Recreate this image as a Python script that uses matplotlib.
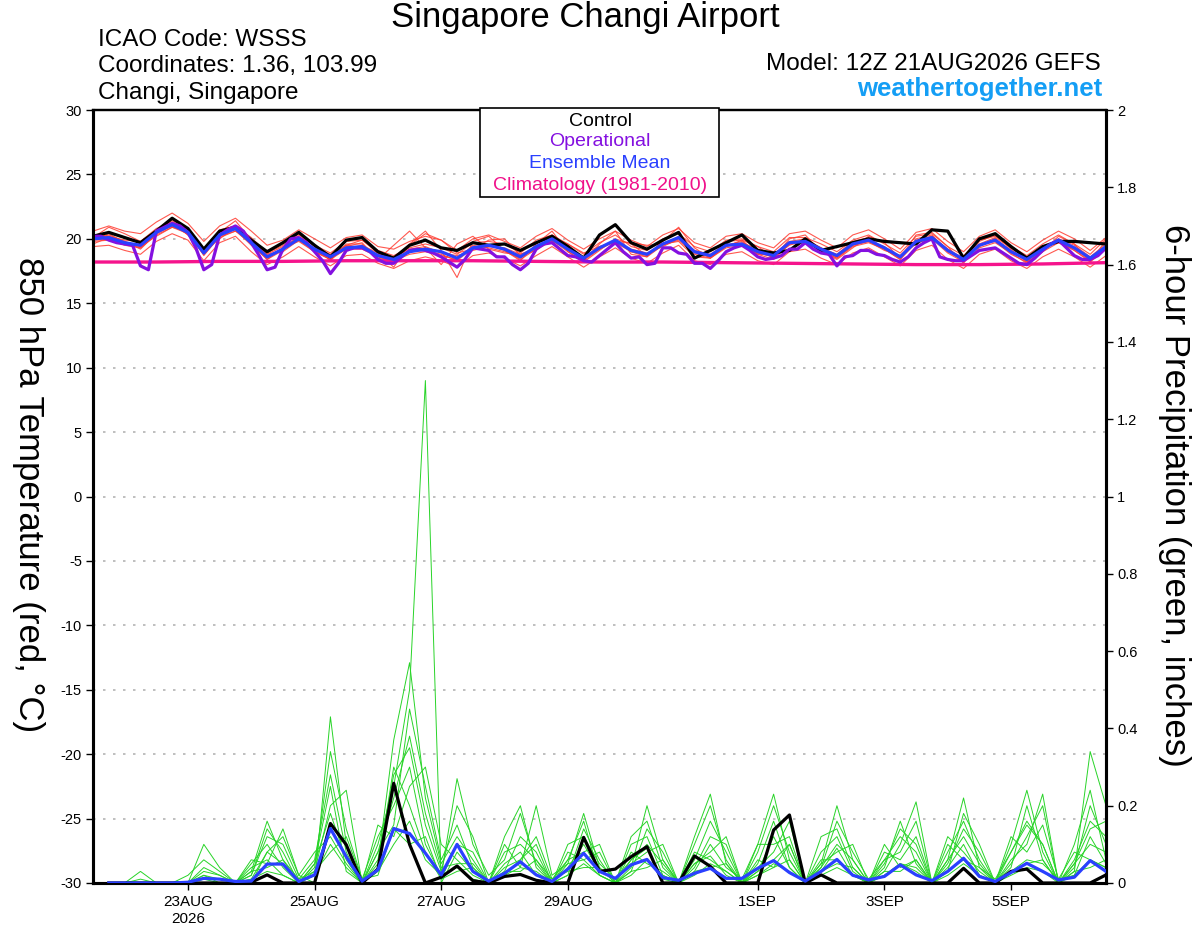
import numpy as np
import pandas as pd
import matplotlib
matplotlib.use('Agg')
import matplotlib.pyplot as plt
from matplotlib.patches import Rectangle
from matplotlib.ticker import FuncFormatter

# Helvetica-like font, plain hyphen for negative ticks
plt.rcParams['font.family'] = ['Liberation Sans', 'DejaVu Sans']
plt.rcParams['axes.unicode_minus'] = False

# ---- time axes (6-hourly ensemble, 3-hourly operational, daily climatology)
times = pd.date_range('2026-08-21 12:00', periods=65, freq='6h')
times_op = pd.date_range('2026-08-21 12:00', periods=129, freq='3h')
times_clim = pd.date_range('2026-08-21 12:00', periods=17, freq='24h')
times_pcp = times[1:]

# ---- 850 hPa temperature (C)
control_t = [20.2, 20.5, 20.1, 19.7, 20.6, 21.6, 20.8, 19.2,
             20.6, 20.9, 19.9, 19.0, 19.7, 20.5, 19.5, 18.6,
             19.9, 20.1, 19.0, 18.5, 19.5, 19.9, 19.3, 19.1,
             19.7, 19.5, 19.6, 19.1, 19.7, 20.2, 19.4, 18.5,
             20.3, 21.1, 19.7, 19.2, 19.9, 20.5, 18.5, 19.1,
             19.7, 20.3, 19.1, 18.9, 19.1, 20.0, 19.1, 19.4,
             19.7, 20.0, 19.8, 19.7, 19.6, 20.7, 20.6, 18.5,
             20.0, 20.4, 19.4, 18.5, 19.4, 19.8, 19.8, 19.7,
             19.6]

mean_t = [20.0, 20.1, 19.7, 19.5, 20.5, 21.1, 20.5, 18.9,
          20.3, 20.8, 19.7, 18.6, 19.2, 20.0, 19.2, 18.6,
          19.3, 19.4, 18.7, 18.4, 19.0, 19.2, 19.0, 18.5,
          19.3, 19.5, 19.2, 18.6, 19.4, 20.0, 19.2, 18.5,
          19.3, 19.9, 19.1, 18.8, 19.6, 20.1, 19.0, 18.7,
          19.5, 19.6, 19.0, 18.7, 19.7, 19.8, 19.2, 18.7,
          19.6, 19.9, 19.3, 18.6, 19.8, 20.1, 19.1, 18.4,
          19.5, 19.9, 19.0, 18.4, 19.2, 19.9, 19.3, 18.5,
          19.4]

oper_t = [20.2, 20.2, 19.9, 19.7, 19.6, 19.5, 17.9, 17.6,
          20.6, 20.9, 21.2, 21.0, 20.5, 19.3, 17.6, 18.0,
          20.3, 20.7, 21.0, 20.6, 19.7, 18.7, 17.6, 17.8,
          19.2, 20.0, 20.1, 19.7, 19.0, 18.3, 17.3, 18.1,
          19.1, 19.3, 19.3, 19.0, 18.4, 18.1, 18.1, 18.6,
          19.1, 19.2, 19.1, 18.9, 18.6, 18.2, 17.8, 18.4,
          19.3, 19.2, 19.1, 18.6, 18.6, 18.0, 17.6, 18.1,
          19.2, 19.6, 19.7, 19.2, 18.7, 18.6, 18.3, 18.2,
          18.7, 19.2, 19.7, 19.0, 18.5, 18.6, 18.0, 18.1,
          19.3, 19.3, 18.9, 18.8, 18.1, 18.1, 17.7, 18.3,
          19.0, 19.3, 19.5, 19.1, 18.6, 18.4, 18.5, 18.7,
          19.2, 19.2, 19.7, 19.2, 18.9, 18.8, 17.9, 18.6,
          18.7, 19.1, 19.1, 18.8, 18.7, 18.4, 18.2, 18.6,
          19.3, 19.7, 20.0, 18.6, 18.4, 18.3, 18.3, 18.7,
          19.1, 19.2, 19.3, 18.9, 18.5, 18.1, 18.0, 18.5,
          19.1, 19.6, 19.9, 19.3, 18.7, 18.4, 18.4, 18.7,
          19.3]

clim_t = [18.2, 18.2, 18.25, 18.25, 18.3, 18.3, 18.3, 18.25, 18.2,
          18.2, 18.15, 18.1, 18.05, 18.0, 18.0, 18.05, 18.15]

members_t = [
    [20.6, 21.0, 20.6, 20.4, 21.3, 22.0, 21.2, 19.8, 21.0, 21.6, 20.6, 19.5, 19.9, 20.7, 20.0, 19.3,
     20.1, 20.3, 19.4, 19.2, 19.8, 20.2, 19.9, 19.1, 20.0, 20.3, 19.8, 19.3, 20.2, 20.8, 19.9, 19.2,
     20.0, 20.6, 19.9, 19.4, 20.3, 20.8, 19.7, 19.3, 20.2, 20.4, 19.7, 19.3, 20.4, 20.6, 19.9, 19.3,
     20.3, 20.7, 20.0, 19.2, 20.5, 20.8, 19.8, 19.0, 20.2, 20.7, 19.7, 19.0, 19.9, 20.6, 20.0, 19.1, 20.1],
    [19.4, 19.5, 19.1, 18.8, 19.8, 20.4, 19.9, 18.3, 19.7, 20.2, 19.0, 18.0, 18.6, 19.4, 18.6, 17.9,
     18.7, 18.8, 18.1, 17.7, 18.3, 18.6, 18.3, 17.8, 18.7, 18.9, 18.5, 17.9, 18.7, 19.4, 18.6, 17.8,
     18.6, 19.3, 18.5, 18.1, 18.9, 19.5, 18.3, 18.0, 18.8, 19.0, 18.3, 18.0, 19.0, 19.2, 18.5, 18.0,
     18.9, 19.3, 18.6, 17.9, 19.1, 19.5, 18.4, 17.7, 18.8, 19.2, 18.3, 17.7, 18.6, 19.2, 18.6, 17.8, 18.7],
    [20.1, 20.9, 20.4, 19.8, 20.6, 21.3, 20.3, 19.0, 20.5, 21.4, 19.9, 18.8, 19.4, 20.1, 19.0, 18.4,
     19.5, 19.9, 18.9, 17.8, 19.6, 20.6, 19.1, 17.0, 19.8, 20.2, 19.1, 18.3, 19.6, 20.6, 19.0, 18.2,
     19.1, 20.0, 19.6, 18.7, 19.8, 20.9, 19.3, 18.5, 19.4, 19.9, 19.4, 18.5, 20.0, 20.3, 19.0, 18.4,
     19.3, 20.2, 19.7, 18.5, 20.3, 20.5, 19.4, 18.1, 19.8, 20.3, 19.2, 18.2, 19.0, 20.2, 19.6, 18.2, 19.9],
    [19.9, 20.0, 19.5, 19.3, 20.3, 20.9, 20.6, 18.7, 20.2, 20.6, 19.9, 18.8, 19.0, 19.9, 19.3, 18.8,
     19.5, 19.3, 18.8, 18.6, 19.2, 19.4, 18.9, 18.7, 19.1, 19.4, 19.3, 18.8, 19.2, 19.8, 19.3, 18.6,
     19.3, 19.8, 19.2, 18.9, 19.4, 20.0, 19.1, 18.8, 19.6, 19.5, 18.9, 18.6, 19.5, 19.9, 19.1, 18.5,
     19.5, 19.8, 19.1, 18.7, 19.6, 20.2, 19.2, 18.5, 19.4, 20.0, 19.1, 18.3, 19.3, 19.7, 19.2, 18.4, 19.3],
    [20.0, 20.3, 19.8, 19.2, 20.4, 21.5, 20.7, 19.1, 20.0, 20.9, 19.6, 18.4, 19.1, 20.3, 19.4, 18.3,
     19.6, 19.6, 18.5, 18.3, 19.5, 20.4, 19.9, 18.9, 19.2, 19.9, 20.0, 18.7, 19.1, 20.3, 19.5, 18.3,
     19.6, 20.6, 18.8, 18.6, 19.9, 20.5, 19.0, 18.6, 19.8, 19.9, 18.8, 18.8, 19.8, 20.0, 19.3, 18.8,
     19.8, 20.1, 19.2, 18.4, 20.0, 20.3, 19.0, 18.3, 19.6, 20.1, 19.3, 18.5, 19.1, 20.0, 19.5, 18.6, 19.6],
    [19.6, 20.1, 19.6, 19.6, 20.7, 21.2, 20.3, 18.8, 20.4, 20.7, 19.5, 18.5, 19.3, 19.8, 19.0, 18.4,
     19.2, 19.5, 18.9, 18.3, 18.8, 19.0, 18.7, 18.4, 19.5, 19.3, 19.0, 18.5, 19.5, 19.9, 19.1, 18.4,
     19.4, 19.7, 19.0, 18.6, 19.5, 20.2, 18.9, 18.6, 19.4, 19.7, 19.2, 18.5, 19.6, 19.7, 19.1, 18.6,
     19.5, 19.8, 19.4, 18.5, 19.7, 20.0, 19.1, 18.3, 19.5, 19.8, 18.8, 18.2, 19.3, 19.9, 19.1, 18.3, 19.5],
    [20.2, 20.2, 19.9, 19.8, 20.8, 21.4, 20.6, 19.2, 20.7, 21.0, 20.1, 18.9, 19.5, 20.4, 19.5, 18.9,
     19.8, 19.9, 19.1, 18.7, 19.3, 19.6, 19.3, 18.8, 19.7, 19.8, 19.6, 18.9, 19.9, 20.3, 19.6, 18.8,
     19.7, 20.3, 19.4, 19.1, 20.0, 20.4, 19.4, 19.0, 19.9, 20.0, 19.4, 19.0, 20.1, 20.1, 19.6, 19.0,
     19.9, 20.3, 19.6, 18.9, 20.2, 20.4, 19.4, 18.7, 19.9, 20.2, 19.4, 18.7, 19.6, 20.3, 19.6, 18.8, 20.0],
    [19.8, 19.9, 19.8, 19.4, 20.2, 20.9, 20.4, 18.8, 20.1, 20.6, 19.6, 18.4, 19.3, 19.9, 19.0, 18.5,
     19.2, 19.2, 18.6, 18.2, 19.0, 19.1, 18.8, 18.3, 19.3, 19.5, 19.1, 18.4, 19.2, 19.9, 19.0, 18.3,
     19.2, 19.8, 19.0, 18.7, 19.5, 19.9, 18.8, 18.5, 19.3, 19.5, 18.8, 18.4, 19.6, 19.8, 19.0, 18.5,
     19.4, 19.7, 19.2, 18.4, 19.7, 20.0, 18.9, 18.2, 19.3, 19.7, 18.9, 18.1, 19.0, 19.7, 19.1, 18.2, 19.2],
    [20.0, 20.2, 19.6, 19.4, 20.5, 21.0, 20.5, 19.0, 20.3, 20.8, 19.8, 18.7, 19.2, 20.0, 19.2, 18.7,
     19.4, 19.7, 18.4, 19.5, 20.6, 19.3, 18.0, 19.6, 20.2, 19.2, 18.9, 18.8, 19.3, 20.1, 19.6, 18.9,
     19.4, 19.8, 19.7, 19.5, 19.6, 19.8, 18.6, 18.5, 19.5, 19.8, 18.9, 18.6, 19.7, 19.9, 19.3, 18.6,
     19.6, 19.9, 19.2, 18.7, 19.9, 20.2, 19.2, 18.4, 19.5, 20.0, 19.0, 18.3, 19.3, 19.9, 19.3, 18.5, 19.4],
    [19.9, 20.4, 19.7, 19.3, 20.4, 21.0, 20.4, 18.9, 20.3, 20.8, 19.7, 18.6, 19.2, 20.0, 19.1, 18.6,
     19.3, 19.4, 18.7, 18.4, 19.0, 19.3, 19.0, 18.5, 19.3, 19.5, 19.2, 18.6, 19.4, 20.0, 19.2, 18.5,
     19.3, 19.9, 19.1, 18.8, 19.6, 20.1, 19.0, 18.7, 19.5, 19.6, 19.0, 18.7, 19.7, 19.8, 19.2, 18.7,
     19.6, 19.9, 19.3, 18.6, 19.8, 20.1, 19.1, 18.4, 19.5, 19.9, 19.0, 18.4, 19.2, 19.9, 19.3, 18.5, 19.4],
]

# ---- 6-hour precipitation (inches), valid from the first 6 h step
control_p = [0, 0, 0, 0, 0, 0, 0, 0,
             0, 0.002, 0.021, 0, 0, 0, 0.154, 0.099,
             0, 0.036, 0.258, 0.1, 0, 0.015, 0.044, 0.006,
             0, 0.017, 0.022, 0.007, 0, 0, 0.118, 0.03,
             0.036, 0.068, 0.094, 0, 0, 0.07, 0.043, 0,
             0, 0, 0.137, 0.176, 0, 0.021, 0, 0,
             0, 0, 0, 0, 0, 0, 0.038, 0,
             0, 0.03, 0.036, 0, 0, 0, 0, 0.021]

mean_p = [0, 0, 0, 0, 0, 0.002, 0.012, 0.01,
          0.004, 0.005, 0.049, 0.049, 0.004, 0.021, 0.141, 0.068,
          0.005, 0.034, 0.141, 0.128, 0.077, 0.021, 0.1, 0.03,
          0.005, 0.025, 0.055, 0.021, 0.004, 0.036, 0.077, 0.03,
          0.012, 0.047, 0.061, 0.014, 0.007, 0.025, 0.038, 0.012,
          0.012, 0.038, 0.058, 0.027, 0.005, 0.03, 0.061, 0.02,
          0.008, 0.017, 0.047, 0.021, 0.006, 0.03, 0.064, 0.017,
          0.004, 0.027, 0.051, 0.03, 0.008, 0.015, 0.058, 0.03]

members_p = [
    [0, 0, 0, 0, 0, 0, 0.02, 0.01, 0, 0.04, 0.06, 0.02, 0, 0.05, 0.18, 0.06,
     0, 0.1, 0.25, 0.5, 1.30, 0.0, 0.08, 0.03, 0, 0.05, 0.08, 0.02, 0, 0.04, 0.1, 0.03,
     0.01, 0.06, 0.09, 0.01, 0, 0.05, 0.07, 0.02, 0, 0.03, 0.12, 0.04, 0, 0.03, 0.09, 0.02,
     0, 0.02, 0.05, 0.03, 0, 0.04, 0.1, 0.02, 0, 0.03, 0.06, 0.05, 0.01, 0.02, 0.12, 0.05],
    [0, 0, 0.03, 0, 0, 0, 0.1, 0.04, 0, 0, 0.08, 0.12, 0.02, 0, 0.43, 0.1,
     0, 0.05, 0.37, 0.57, 0.22, 0.05, 0.12, 0.06, 0, 0.1, 0.04, 0.2, 0.02, 0.05, 0.18, 0.04,
     0, 0.08, 0.05, 0.03, 0, 0.12, 0.23, 0.05, 0, 0.06, 0.04, 0.1, 0, 0.05, 0.2, 0.06,
     0, 0.04, 0.16, 0.05, 0, 0.06, 0.22, 0.04, 0.01, 0.08, 0.15, 0.1, 0, 0.03, 0.34, 0.2],
    [0, 0, 0.01, 0, 0, 0.02, 0.06, 0.03, 0, 0.03, 0.16, 0.06, 0, 0.04, 0.34, 0.14,
     0.01, 0.12, 0.2, 0.3, 0.1, 0.02, 0.27, 0.1, 0.02, 0.06, 0.18, 0.05, 0, 0.08, 0.06, 0.02,
     0, 0.04, 0.2, 0.06, 0, 0.03, 0.1, 0.04, 0.01, 0.1, 0.23, 0.06, 0, 0.08, 0.12, 0.03,
     0, 0.03, 0.1, 0.21, 0, 0.1, 0.06, 0.02, 0, 0.1, 0.24, 0.08, 0, 0.05, 0.1, 0.08],
    [0, 0, 0, 0, 0, 0, 0.04, 0.02, 0, 0.02, 0.12, 0.1, 0.01, 0.06, 0.28, 0.08,
     0, 0.08, 0.15, 0.45, 0.25, 0.06, 0.15, 0.04, 0, 0.03, 0.12, 0.08, 0, 0.02, 0.14, 0.06,
     0, 0.1, 0.12, 0.02, 0, 0.06, 0.16, 0.08, 0, 0.04, 0.08, 0.16, 0, 0.04, 0.16, 0.08,
     0.01, 0.06, 0.12, 0.08, 0, 0.08, 0.16, 0.06, 0, 0.06, 0.1, 0.23, 0, 0.04, 0.2, 0.1],
    [0, 0, 0, 0, 0, 0, 0.01, 0.0, 0, 0.05, 0.1, 0.04, 0, 0.03, 0.2, 0.24,
     0, 0.06, 0.28, 0.35, 0.15, 0.03, 0.2, 0.12, 0, 0.02, 0.06, 0.12, 0.01, 0.06, 0.08, 0.1,
     0, 0.03, 0.14, 0.08, 0, 0.08, 0.06, 0.03, 0, 0.05, 0.16, 0.04, 0, 0.12, 0.14, 0.04,
     0, 0.08, 0.06, 0.12, 0, 0.05, 0.14, 0.08, 0, 0.04, 0.2, 0.06, 0, 0.06, 0.16, 0.12],
    [0, 0, 0, 0, 0, 0, 0, 0, 0, 0.02, 0.14, 0.08, 0, 0.02, 0.15, 0.1,
     0, 0.04, 0.3, 0.2, 0.08, 0.01, 0.1, 0.08, 0, 0.08, 0.1, 0.06, 0, 0.1, 0.12, 0.05,
     0.01, 0.05, 0.08, 0.1, 0, 0.1, 0.2, 0.06, 0, 0.08, 0.2, 0.08, 0, 0.06, 0.06, 0.02,
     0, 0.05, 0.14, 0.1, 0, 0.03, 0.18, 0.1, 0, 0.12, 0.08, 0.15, 0.01, 0.08, 0.06, 0.04],
    [0, 0, 0, 0, 0, 0, 0.03, 0.02, 0, 0.06, 0.05, 0.14, 0.02, 0.08, 0.12, 0.05,
     0, 0.15, 0.12, 0.25, 0.3, 0.1, 0.06, 0.02, 0, 0.12, 0.2, 0.04, 0, 0.05, 0.06, 0.08,
     0, 0.06, 0.1, 0.05, 0, 0.04, 0.12, 0.1, 0, 0.1, 0.1, 0.12, 0, 0.04, 0.1, 0.06,
     0, 0.06, 0.08, 0.16, 0, 0.06, 0.12, 0.05, 0, 0.05, 0.12, 0.2, 0, 0.1, 0.24, 0.06],
    [0, 0, 0, 0, 0, 0, 0.02, 0, 0, 0.01, 0.08, 0.05, 0, 0.05, 0.25, 0.03,
     0, 0.08, 0.22, 0.38, 0.18, 0.04, 0.05, 0.05, 0, 0.04, 0.06, 0.1, 0, 0.06, 0.16, 0.02,
     0, 0.12, 0.16, 0.04, 0, 0.05, 0.08, 0.12, 0, 0.03, 0.06, 0.1, 0, 0.05, 0.08, 0.1,
     0, 0.1, 0.04, 0.06, 0, 0.12, 0.08, 0.03, 0, 0.08, 0.16, 0.1, 0, 0.05, 0.14, 0.16],
    [0, 0, 0, 0, 0, 0, 0, 0, 0, 0.01, 0.03, 0.02, 0, 0.02, 0.1, 0.04,
     0, 0.03, 0.1, 0.16, 0.06, 0.02, 0.04, 0.01, 0, 0.02, 0.04, 0.03, 0, 0.02, 0.05, 0.02,
     0, 0.02, 0.06, 0.02, 0, 0.02, 0.05, 0.03, 0, 0.02, 0.05, 0.03, 0, 0.02, 0.04, 0.02,
     0, 0.02, 0.05, 0.04, 0, 0.02, 0.05, 0.02, 0, 0.02, 0.04, 0.03, 0, 0.02, 0.06, 0.04],
    [0, 0, 0, 0, 0, 0, 0.01, 0.01, 0, 0.03, 0.04, 0.06, 0.01, 0.03, 0.08, 0.12,
     0.01, 0.02, 0.14, 0.1, 0.12, 0.01, 0.03, 0.04, 0, 0.03, 0.03, 0.06, 0.01, 0.03, 0.04, 0.04,
     0, 0.03, 0.04, 0.06, 0, 0.03, 0.04, 0.05, 0, 0.02, 0.04, 0.06, 0, 0.03, 0.05, 0.04,
     0, 0.03, 0.03, 0.06, 0, 0.03, 0.06, 0.04, 0, 0.03, 0.05, 0.06, 0, 0.03, 0.04, 0.06],
]

tick_dates = pd.to_datetime(['2026-08-23', '2026-08-25', '2026-08-27', '2026-08-29',
                             '2026-09-01', '2026-09-03', '2026-09-05'])
tick_labels = ['23AUG\n2026', '25AUG', '27AUG', '29AUG', '1SEP', '3SEP', '5SEP']

W, H = 1200, 927


def fx(px):
    return px / W


def fy(py):
    return 1 - py / H


fig = plt.figure(figsize=(W / 100, H / 100), dpi=100)
ax = fig.add_axes([fx(93), fy(883), fx(1106) - fx(93), fy(110) - fy(883)])
ax2 = ax.twinx()

# dotted grid
for v in range(-25, 30, 5):
    ax.axhline(v, color='#b4b4b4', lw=1.2, ls=(0, (1.5, 4.5)), zorder=0)

# temperature
for m in members_t:
    ax.plot(times, m, color='#ff3b30', lw=0.8, alpha=0.85, zorder=2)
ax.plot(times_clim, clim_t, color='#f5148c', lw=2.4, zorder=3)
ax.plot(times, control_t, color='black', lw=2.3, zorder=4)
ax.plot(times_op, oper_t, color='#8410e0', lw=2.3, zorder=5)
ax.plot(times, mean_t, color='#2a40ff', lw=2.3, zorder=6)

# precipitation
for m in members_p:
    ax2.plot(times_pcp, m, color='#28d428', lw=0.7, zorder=2)
ax2.plot(times_pcp, control_p, color='black', lw=2.3, zorder=4)
ax2.plot(times_pcp, mean_p, color='#2a40ff', lw=2.3, zorder=5)

ax.set_xlim(times[0], times[-1])
ax.set_ylim(-30, 30)
ax2.set_ylim(0, 2)
ax.set_yticks(np.arange(-30, 31, 5))
ax2.set_yticks(np.arange(0, 2.01, 0.2))
ax2.yaxis.set_major_formatter(FuncFormatter(lambda v, p: f'{v:g}'))
ax.set_xticks(tick_dates)
ax.set_xticklabels(tick_labels)

for a in (ax, ax2):
    a.tick_params(direction='out', length=5, width=1, labelsize=10.5, pad=3)
    for side in ('left', 'right', 'bottom'):
        a.spines[side].set_linewidth(2.2)
    a.spines['top'].set_linewidth(1.6)
ax.tick_params(axis='x', labelsize=11, pad=4)

# header texts
fig.text(fx(585), fy(18), 'Singapore Changi Airport', fontsize=25, ha='center', va='center')
fig.text(fx(98), fy(40), 'ICAO Code: WSSS', fontsize=17.5, ha='left', va='center')
fig.text(fx(98), fy(66), 'Coordinates: 1.36, 103.99', fontsize=17.5, ha='left', va='center')
fig.text(fx(98), fy(93), 'Changi, Singapore', fontsize=17.5, ha='left', va='center')
fig.text(fx(1101), fy(64), 'Model: 12Z 21AUG2026 GEFS', fontsize=17.5, ha='right', va='center')
fig.text(fx(1102), fy(89), 'weathertogether.net', fontsize=18.5, ha='right', va='center',
         color='#149ef5', fontweight='bold')

# axis titles
fig.text(fx(28), fy(495), '850 hPa Temperature (red, °C)', fontsize=25,
         rotation=-90, ha='center', va='center')
fig.text(fx(1174), fy(495), '6-hour Precipitation (green, inches)', fontsize=25,
         rotation=-90, ha='center', va='center')

# legend box
box = Rectangle((fx(480), fy(197)), fx(719) - fx(480), fy(108) - fy(197),
                transform=fig.transFigure, facecolor='white', edgecolor='black',
                lw=1.2, zorder=10)
fig.add_artist(box)
legend_items = [('Control', 'black', 121), ('Operational', '#8410e0', 142),
                ('Ensemble Mean', '#2a40ff', 163), ('Climatology (1981-2010)', '#f0108a', 185)]
for label, color, ypix in legend_items:
    fig.text(fx(600), fy(ypix), label, fontsize=14, color=color,
             ha='center', va='center', zorder=11)

fig.savefig('out.png', dpi=100)
